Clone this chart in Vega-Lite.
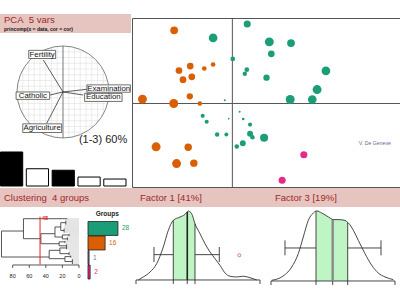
{
"$schema": "https://vega.github.io/schema/vega-lite/v6.json",
"padding": {"top": 14, "left": 0, "right": 0, "bottom": 0},
"background": "white",
"spacing": 0,
"resolve": {"scale": {"color": "independent", "size": "independent"}},
"config": {"view": {"stroke": null}, "concat": {"spacing": 0}, "font": "Liberation Sans", "text": {"font": "Liberation Sans"}},
"datasets": {
"grid": [
{"k":-0.875,"lo":-0.4841,"hi":0.4841},{"k":-0.75,"lo":-0.6614,"hi":0.6614},{"k":-0.625,"lo":-0.7806,"hi":0.7806},{"k":-0.5,"lo":-0.866,"hi":0.866},{"k":-0.375,"lo":-0.927,"hi":0.927},{"k":-0.25,"lo":-0.9682,"hi":0.9682},{"k":-0.125,"lo":-0.9922,"hi":0.9922},{"k":0,"lo":-1,"hi":1},{"k":0.125,"lo":-0.9922,"hi":0.9922},{"k":0.25,"lo":-0.9682,"hi":0.9682},{"k":0.375,"lo":-0.927,"hi":0.927},{"k":0.5,"lo":-0.866,"hi":0.866},{"k":0.625,"lo":-0.7806,"hi":0.7806},{"k":0.75,"lo":-0.6614,"hi":0.6614},{"k":0.875,"lo":-0.4841,"hi":0.4841}],
"vars": [
{"v":"Fertility","ax":-0.428,"ay":0.696,"o":0,"bx1":-0.745,"bx2":-0.16,"by1":0.728,"by2":0.905,"lx":-0.453,"ly":0.815},
{"v":"Catholic","ax":-0.283,"ay":-0.065,"o":0,"bx1":-1.02,"bx2":-0.29,"by1":-0.16,"by2":0.0,"lx":-0.656,"ly":-0.08},
{"v":"Examination","ax":0.515,"ay":0.059,"o":0,"bx1":0.52,"bx2":1.465,"by1":-0.005,"by2":0.155,"lx":0.993,"ly":0.074},
{"v":"Education","ax":0.441,"ay":-0.065,"o":0,"bx1":0.47,"bx2":1.285,"by1":-0.205,"by2":-0.03,"lx":0.877,"ly":-0.116},
{"v":"Agriculture","ax":-0.354,"ay":-0.68,"o":0,"bx1":-0.875,"bx2":-0.03,"by1":-0.88,"by2":-0.692,"lx":-0.453,"ly":-0.785}],
"eig": [{"f":"1","v":2.05,"sel":"y"},{"f":"2","v":1.04,"sel":"n"},{"f":"3","v":0.95,"sel":"y"},{"f":"4","v":0.54,"sel":"n"},{"f":"5","v":0.42,"sel":"n"}],
"scores": [
{"g":"2","x":-1.45,"y":1.84,"w":0.6},{"g":"2","x":-1.05,"y":0.94,"w":0.45},{"g":"2","x":-1.33,"y":0.83,"w":0.45},{"g":"2","x":-0.70,"y":0.88,"w":0.22},{"g":"2","x":-0.48,"y":0.98,"w":0.22},{"g":"2","x":-1.01,"y":0.67,"w":0.45},{"g":"2","x":-1.23,"y":0.60,"w":0.45},{"g":"2","x":-2.24,"y":0.11,"w":0.8},{"g":"2","x":-1.46,"y":0.0,"w":0.8},{"g":"2","x":-1.06,"y":0.18,"w":0.4},{"g":"2","x":-0.81,"y":0.0,"w":0.22},{"g":"2","x":-1.90,"y":-1.09,"w":0.8},{"g":"2","x":-1.10,"y":-1.10,"w":0.55},{"g":"2","x":-1.39,"y":-1.51,"w":0.8},{"g":"2","x":-0.96,"y":-1.50,"w":0.55},
{"g":"1","x":0.37,"y":2.0,"w":0.5},{"g":"1","x":-0.48,"y":1.65,"w":0.75},{"g":"1","x":0.92,"y":1.55,"w":0.8},{"g":"1","x":1.46,"y":1.52,"w":0.6},{"g":"1","x":0.97,"y":1.25,"w":0.45},{"g":"1","x":0.01,"y":1.12,"w":0.22},{"g":"1","x":0.36,"y":0.85,"w":0.22},{"g":"1","x":0.31,"y":0.75,"w":0.2},{"g":"1","x":0.85,"y":0.65,"w":0.4},{"g":"1","x":2.33,"y":0.82,"w":0.75},{"g":"1","x":2.11,"y":0.35,"w":0.8},{"g":"1","x":1.44,"y":0.10,"w":0.8},{"g":"1","x":1.99,"y":0.10,"w":0.75},{"g":"1","x":-0.19,"y":0.08,"w":0.04},{"g":"1","x":0.18,"y":-0.21,"w":0.04},{"g":"1","x":-0.09,"y":-0.38,"w":0.03},{"g":"1","x":0.27,"y":-0.39,"w":0.07},{"g":"1","x":-0.74,"y":-0.31,"w":0.17},{"g":"1","x":-0.64,"y":-0.46,"w":0.17},{"g":"1","x":0.44,"y":-0.53,"w":0.17},{"g":"1","x":-0.38,"y":-0.78,"w":0.2},{"g":"1","x":-0.15,"y":-0.78,"w":0.15},{"g":"1","x":0.44,"y":-0.76,"w":0.35},{"g":"1","x":0.50,"y":-0.85,"w":0.2},{"g":"1","x":0.79,"y":-0.86,"w":0.65},{"g":"1","x":0.26,"y":-1.00,"w":0.35},{"g":"1","x":0.11,"y":-1.08,"w":0.2},
{"g":"4","x":1.78,"y":-1.29,"w":0.5},{"g":"4","x":1.24,"y":-1.93,"w":0.5}],
"leaves": [
{"i":0,"h":14,"z":0},{"i":1,"h":16,"z":0},{"i":2,"h":16,"z":0},{"i":3,"h":16,"z":0},{"i":4,"h":16,"z":0},{"i":5,"h":16,"z":0},{"i":6,"h":16,"z":0},{"i":7,"h":18,"z":0},{"i":8,"h":18,"z":0},{"i":9,"h":18,"z":0},{"i":10,"h":18,"z":0},{"i":11,"h":18,"z":0},{"i":12,"h":18,"z":0},{"i":13,"h":18,"z":0},{"i":14,"h":18,"z":0},{"i":15,"h":12,"z":0},{"i":16,"h":12,"z":0},{"i":17,"h":12,"z":0},{"i":18,"h":14,"z":0},{"i":19,"h":14,"z":0},{"i":20,"h":14,"z":0},{"i":21,"h":14,"z":0},{"i":22,"h":14,"z":0},{"i":23,"h":17,"z":0},{"i":24,"h":17,"z":0},{"i":25,"h":17,"z":0},{"i":26,"h":15,"z":0},{"i":27,"h":15,"z":0},{"i":28,"h":15,"z":0},{"i":29,"h":15,"z":0},{"i":30,"h":15,"z":0},{"i":31,"h":15,"z":0},{"i":32,"h":12,"z":0},{"i":33,"h":12,"z":0},{"i":34,"h":12,"z":0},{"i":35,"h":12,"z":0},{"i":36,"h":12,"z":0},{"i":37,"h":12,"z":0},{"i":38,"h":10,"z":0},{"i":39,"h":10,"z":0},{"i":40,"h":10,"z":0},{"i":41,"h":8,"z":0},{"i":42,"h":8,"z":0},{"i":43,"h":8,"z":0},{"i":44,"h":8,"z":0},{"i":45,"h":8,"z":0},{"i":46,"h":8,"z":0}],
"tree": [
{"h1":93.5,"h2":93.5,"i1":12.5,"i2":38.9},{"h1":93.5,"h2":67,"i1":12.5,"i2":12.5},{"h1":93.5,"h2":36,"i1":38.9,"i2":38.9},
{"h1":67,"h2":67,"i1":0,"i2":20.3},{"h1":67,"h2":14,"i1":0,"i2":0},{"h1":67,"h2":46,"i1":20.3,"i2":20.3},
{"h1":46,"h2":46,"i1":15.2,"i2":25.4},{"h1":46,"h2":29,"i1":15.2,"i2":15.2},{"h1":46,"h2":24,"i1":25.4,"i2":25.4},
{"h1":29,"h2":29,"i1":8.4,"i2":18.6},{"h1":29,"h2":22,"i1":8.4,"i2":8.4},{"h1":29,"h2":20,"i1":18.6,"i2":18.6},
{"h1":22,"h2":22,"i1":4,"i2":12},{"h1":22,"h2":16,"i1":4,"i2":4},{"h1":16,"h2":16,"i1":2,"i2":6},{"h1":22,"h2":18,"i1":12,"i2":12},{"h1":18,"h2":18,"i1":10,"i2":14},
{"h1":20,"h2":20,"i1":16.5,"i2":20.5},{"h1":20,"h2":12,"i1":16.5,"i2":16.5},{"h1":12,"h2":12,"i1":15.5,"i2":17.5},{"h1":20,"h2":14,"i1":20.5,"i2":20.5},{"h1":14,"h2":14,"i1":19,"i2":22},
{"h1":24,"h2":24,"i1":23.5,"i2":27.5},{"h1":24,"h2":17,"i1":23.5,"i2":23.5},{"h1":17,"h2":17,"i1":22.5,"i2":24.5},{"h1":24,"h2":15,"i1":27.5,"i2":27.5},{"h1":15,"h2":15,"i1":26,"i2":29},
{"h1":36,"h2":36,"i1":32.1,"i2":40.6},{"h1":36,"h2":23,"i1":32.1,"i2":32.1},{"h1":36,"h2":17,"i1":40.6,"i2":40.6},
{"h1":23,"h2":23,"i1":29.7,"i2":35.5},{"h1":23,"h2":15,"i1":29.7,"i2":29.7},{"h1":15,"h2":15,"i1":28.5,"i2":31},{"h1":23,"h2":12,"i1":35.5,"i2":35.5},{"h1":12,"h2":12,"i1":34,"i2":37},
{"h1":17,"h2":17,"i1":38.5,"i2":43.5},{"h1":17,"h2":10,"i1":38.5,"i2":38.5},{"h1":10,"h2":10,"i1":37.5,"i2":39.5},{"h1":17,"h2":8,"i1":43.5,"i2":43.5},{"h1":8,"h2":8,"i1":41,"i2":46},
{"h1":47,"h2":47,"i1":-2,"i2":46.5},
{"h1":80,"h2":0,"i1":47,"i2":47},
{"h1":80,"h2":80,"i1":47,"i2":50},{"h1":60,"h2":60,"i1":47,"i2":50},{"h1":40,"h2":40,"i1":47,"i2":50},{"h1":20,"h2":20,"i1":47,"i2":50},{"h1":0,"h2":0,"i1":47,"i2":50}],
"dtext": [{"h":80,"i":57.7,"t":"80"},{"h":60,"i":57.7,"t":"60"},{"h":40,"i":57.7,"t":"40"},{"h":20,"i":57.7,"t":"20"},{"h":0,"i":57.7,"t":"0"}],
"groups": [{"gid":"g1","n":28,"z":0,"c":"1"},{"gid":"g2","n":16,"z":0,"c":"2"},{"gid":"g3","n":1,"z":0,"c":"3"},{"gid":"g4","n":2,"z":0,"c":"4"}],
"f1c": [{"x":-2.486,"y":0},{"x":-2.272,"y":0.02},{"x":-1.984,"y":0.053},{"x":-1.696,"y":0.109},{"x":-1.413,"y":0.22},{"x":-1.198,"y":0.331},{"x":-0.983,"y":0.398},{"x":-0.695,"y":0.42},{"x":-0.481,"y":0.438},{"x":-0.382,"y":0.455},{"x":-0.339,"y":0.46},{"x":-0.193,"y":0.442},{"x":-0.051,"y":0.375},{"x":0.164,"y":0.309},{"x":0.379,"y":0.242},{"x":0.594,"y":0.187},{"x":0.809,"y":0.142},{"x":1.023,"y":0.098},{"x":1.238,"y":0.047},{"x":1.453,"y":0.025},{"x":1.741,"y":0.02},{"x":2.024,"y":0.025},{"x":2.312,"y":0.015},{"x":2.6,"y":0}],
"f1s": [{"x1":-2.585,"x2":2.741,"y1":0,"y2":0},{"x1":-2.585,"x2":-2.585,"y1":0,"y2":-0.027},{"x1":-0.983,"x2":-0.983,"y1":-0.027,"y2":0.398},{"x1":-0.382,"x2":-0.382,"y1":0,"y2":-0.027},{"x1":-0.051,"x2":-0.051,"y1":-0.027,"y2":0.375},{"x1":2.741,"x2":2.741,"y1":0,"y2":-0.027},{"x1":-1.812,"x2":-0.983,"y1":0.169,"y2":0.169},{"x1":-0.051,"x2":0.993,"y1":0.169,"y2":0.169},{"x1":-1.812,"x2":-1.812,"y1":0.12,"y2":0.22},{"x1":0.993,"x2":0.993,"y1":0.12,"y2":0.22}],
"f3c": [{"x":-2.555,"y":0.005},{"x":-2.126,"y":0.027},{"x":-1.696,"y":0.093},{"x":-1.413,"y":0.182},{"x":-1.198,"y":0.293},{"x":-0.983,"y":0.404},{"x":-0.768,"y":0.453},{"x":-0.652,"y":0.466},{"x":-0.622,"y":0.467},{"x":-0.407,"y":0.453},{"x":-0.124,"y":0.427},{"x":0.065,"y":0.41},{"x":0.091,"y":0.409},{"x":0.306,"y":0.409},{"x":0.593,"y":0.404},{"x":0.709,"y":0.39},{"x":0.735,"y":0.387},{"x":0.95,"y":0.338},{"x":1.165,"y":0.271},{"x":1.453,"y":0.182},{"x":1.74,"y":0.105},{"x":2.024,"y":0.053},{"x":2.312,"y":0.027},{"x":2.668,"y":0.009}],
"f3s": [{"x1":-2.585,"x2":2.741,"y1":0,"y2":0},{"x1":-2.585,"x2":-2.585,"y1":0,"y2":-0.027},{"x1":-0.652,"x2":-0.652,"y1":-0.027,"y2":0.466},{"x1":0.065,"x2":0.065,"y1":0,"y2":-0.027},{"x1":0.709,"x2":0.709,"y1":-0.027,"y2":0.39},{"x1":2.741,"x2":2.741,"y1":0,"y2":-0.027},{"x1":-1.984,"x2":-0.652,"y1":0.22,"y2":0.22},{"x1":0.709,"x2":2.14,"y1":0.22,"y2":0.22},{"x1":-1.984,"x2":-1.984,"y1":0.171,"y2":0.271},{"x1":2.14,"x2":2.14,"y1":0.171,"y2":0.271}]
},
"vconcat": [
{"hconcat": [
 {"vconcat": [
  {"width": 131, "height": 19, "view": {"fill": "#e6c4c0", "stroke": null},
   "data": {"values": [{"t": "PCA\u00a0\u00a05 vars", "s": "princomp(x = data, cor = cor)", "x": 0, "y1": 0.66, "y2": 0.2}]},
   "layer": [
    {"mark": {"type": "text", "align": "left", "baseline": "middle", "dx": 4, "fontSize": 9.5, "color": "#a0282a"},
     "encoding": {"x": {"field": "x", "type": "quantitative", "scale": {"domain": [0, 1], "nice": false}, "axis": null}, "y": {"field": "y1", "type": "quantitative", "scale": {"domain": [0, 1], "nice": false}, "axis": null}, "text": {"field": "t"}}},
    {"mark": {"type": "text", "align": "left", "baseline": "middle", "dx": 4, "fontSize": 5, "fontWeight": "bold", "color": "#111"},
     "encoding": {"x": {"field": "x", "type": "quantitative"}, "y": {"field": "y2", "type": "quantitative"}, "text": {"field": "s"}}}
   ]},
  {"width": 131, "height": 117,
   "layer": [
    {"data": {"name": "grid"}, "mark": {"type": "rule", "color": "#e0e0e0", "strokeWidth": 0.6},
     "encoding": {"x": {"field": "k", "type": "quantitative", "scale": {"domain": [-1.3696, 1.4783], "nice": false, "zero": false}, "axis": null}, "y": {"field": "lo", "type": "quantitative", "scale": {"domain": [-1.2609, 1.2826], "nice": false, "zero": false}, "axis": null}, "y2": {"field": "hi"}}},
    {"data": {"name": "grid"}, "mark": {"type": "rule", "color": "#e0e0e0", "strokeWidth": 0.6},
     "encoding": {"y": {"field": "k", "type": "quantitative"}, "x": {"field": "lo", "type": "quantitative"}, "x2": {"field": "hi"}}},
    {"data": {"values": [{"cx": 0, "cy": 0}]}, "mark": {"type": "point", "shape": "circle", "filled": false, "size": 8464, "color": "#777", "strokeWidth": 0.9, "opacity": 1},
     "encoding": {"x": {"field": "cx", "type": "quantitative"}, "y": {"field": "cy", "type": "quantitative"}}},
    {"data": {"values": [{"cx": 0, "lo": -1, "hi": 1}]}, "mark": {"type": "rule", "color": "#666", "strokeWidth": 0.8},
     "encoding": {"x": {"field": "cx", "type": "quantitative"}, "y": {"field": "lo", "type": "quantitative"}, "y2": {"field": "hi"}}},
    {"data": {"name": "vars"}, "mark": {"type": "rule", "color": "#333", "strokeWidth": 0.8},
     "encoding": {"x": {"field": "ax", "type": "quantitative"}, "y": {"field": "ay", "type": "quantitative"}, "x2": {"field": "o"}, "y2": {"field": "o"}}},
    {"data": {"name": "vars"}, "mark": {"type": "rect", "fill": "white", "stroke": "#333", "strokeWidth": 0.7},
     "encoding": {"x": {"field": "bx1", "type": "quantitative"}, "x2": {"field": "bx2"}, "y": {"field": "by1", "type": "quantitative"}, "y2": {"field": "by2"}}},
    {"data": {"name": "vars"}, "mark": {"type": "text", "fontSize": 7.8, "color": "#111", "baseline": "middle"},
     "encoding": {"x": {"field": "lx", "type": "quantitative"}, "y": {"field": "ly", "type": "quantitative"}, "text": {"field": "v"}}},
    {"data": {"values": [{"t": "(1-3) 60%", "x": 0.87, "y": -1.04}]}, "mark": {"type": "text", "fontSize": 11, "color": "#222", "baseline": "middle"},
     "encoding": {"x": {"field": "x", "type": "quantitative"}, "y": {"field": "y", "type": "quantitative"}, "text": {"field": "t"}}}
   ]},
  {"width": 131, "height": 36, "data": {"name": "eig"},
   "mark": {"type": "bar", "stroke": "#000", "strokeWidth": 1},
   "encoding": {"x": {"field": "f", "type": "ordinal", "scale": {"range": [0.5, 126], "paddingInner": 0.14, "paddingOuter": 0}, "axis": null},
    "y": {"field": "v", "type": "quantitative", "scale": {"domain": [0, 2.17], "nice": false}, "axis": null},
    "color": {"field": "sel", "type": "nominal", "scale": {"domain": ["y", "n"], "range": ["#000000", "#ffffff"]}, "legend": null}}}
 ], "spacing": 0, "resolve": {"scale": {"color": "independent", "size": "independent"}}},
 {"vconcat": [
  {"width": 269, "height": 3, "data": {"values": [{"a": 0}]}, "mark": {"type": "rect", "opacity": 0},
   "encoding": {"x": {"field": "a", "type": "quantitative", "scale": {"domain": [0, 1]}, "axis": null}, "x2": {"field": "a"}, "y": {"field": "a", "type": "quantitative", "scale": {"domain": [0, 1]}, "axis": null}, "y2": {"field": "a"}}},
  {"width": 269, "height": 169, "view": {"stroke": "#555", "strokeWidth": 1},
   "layer": [
    {"data": {"values": [{"z": 0}]}, "mark": {"type": "rule", "color": "#555", "strokeWidth": 1},
     "encoding": {"y": {"field": "z", "type": "quantitative", "scale": {"domain": [-2.1, 2.15], "nice": false, "zero": false}, "axis": null}}},
    {"data": {"values": [{"z": 0}]}, "mark": {"type": "rule", "color": "#555", "strokeWidth": 1},
     "encoding": {"x": {"field": "z", "type": "quantitative", "scale": {"domain": [-2.5, 4.2], "nice": false, "zero": false}, "axis": null}}},
    {"data": {"name": "scores"}, "mark": {"type": "circle", "opacity": 1},
     "encoding": {"x": {"field": "x", "type": "quantitative"}, "y": {"field": "y", "type": "quantitative"},
      "size": {"field": "w", "type": "quantitative", "scale": {"domain": [0, 1], "range": [0, 100]}, "legend": null},
      "color": {"field": "g", "type": "nominal", "scale": {"domain": ["1", "2", "3", "4"], "range": ["#1b9e77", "#d95f02", "#7570b3", "#e7298a"]}, "legend": null}}},
    {"data": {"values": [{"t": "V. De Geneve", "x": 3.55, "y": -0.99}]}, "mark": {"type": "text", "fontSize": 5.2, "color": "#6a6a9a", "baseline": "middle"},
     "encoding": {"x": {"field": "x", "type": "quantitative"}, "y": {"field": "y", "type": "quantitative"}, "text": {"field": "t"}}}
   ]}
 ], "spacing": 0, "resolve": {"scale": {"color": "independent", "size": "independent"}}}
], "spacing": 0, "resolve": {"scale": {"color": "independent", "size": "independent"}}},
{"hconcat": [
 {"vconcat": [
  {"width": 131, "height": 19, "view": {"fill": "#e6c4c0", "stroke": null},
   "data": {"values": [{"t": "Clustering\u00a0\u00a04 groups", "x": 0, "y": 0.5}]},
   "mark": {"type": "text", "align": "left", "baseline": "middle", "dx": 4, "fontSize": 9.5, "color": "#a0282a"},
   "encoding": {"x": {"field": "x", "type": "quantitative", "scale": {"domain": [0, 1], "nice": false}, "axis": null}, "y": {"field": "y", "type": "quantitative", "scale": {"domain": [0, 1], "nice": false}, "axis": null}, "text": {"field": "t"}}},
  {"hconcat": [
   {"width": 85, "height": 95,
    "layer": [
     {"data": {"name": "leaves"}, "mark": {"type": "rule", "color": "#c8c8c8", "strokeWidth": 0.5},
      "encoding": {"x": {"field": "h", "type": "quantitative", "scale": {"domain": [-7.24, 95.3], "reverse": true, "nice": false, "zero": false}, "axis": null}, "x2": {"field": "z"}, "y": {"field": "i", "type": "quantitative", "scale": {"domain": [-11.9, 84.6], "reverse": true, "nice": false, "zero": false}, "axis": null}}},
     {"data": {"name": "tree"}, "transform": [{"filter": "datum.h1 != 47"}], "mark": {"type": "rule", "color": "#444", "strokeWidth": 0.9},
      "encoding": {"x": {"field": "h1", "type": "quantitative"}, "x2": {"field": "h2"}, "y": {"field": "i1", "type": "quantitative"}, "y2": {"field": "i2"}}},
     {"data": {"name": "tree"}, "transform": [{"filter": "datum.h1 == 47"}], "mark": {"type": "rule", "color": "#e02828", "strokeWidth": 1},
      "encoding": {"x": {"field": "h1", "type": "quantitative"}, "x2": {"field": "h2"}, "y": {"field": "i1", "type": "quantitative"}, "y2": {"field": "i2"}}},
     {"data": {"values": [{"t": "48", "h": 41, "i": -0.7}]}, "mark": {"type": "text", "color": "#e02828", "fontSize": 5.5, "fontWeight": "bold", "baseline": "middle"},
      "encoding": {"x": {"field": "h", "type": "quantitative"}, "y": {"field": "i", "type": "quantitative"}, "text": {"field": "t"}}},
     {"data": {"name": "dtext"}, "mark": {"type": "text", "color": "#222", "fontSize": 5.5, "baseline": "middle"},
      "encoding": {"x": {"field": "h", "type": "quantitative"}, "y": {"field": "i", "type": "quantitative"}, "text": {"field": "t"}}}
    ]},
   {"width": 46, "height": 95,
    "layer": [
     {"data": {"values": [{"gid": "hdr", "t": "Groups", "n": 18}]}, "mark": {"type": "text", "fontSize": 6.5, "fontWeight": "bold", "color": "#222", "baseline": "middle"},
      "encoding": {"x": {"field": "n", "type": "quantitative", "scale": {"domain": [-2.8, 40.2], "nice": false, "zero": false}, "axis": null},
       "y": {"field": "gid", "type": "ordinal", "scale": {"domain": ["hdr", "g1", "g2", "g3", "g4"], "range": [0, 72], "paddingInner": 0.04, "paddingOuter": 0}, "axis": null}, "text": {"field": "t"}}},
     {"data": {"name": "groups"}, "mark": {"type": "bar", "stroke": "#222", "strokeWidth": 0.8},
      "encoding": {"x": {"field": "n", "type": "quantitative"}, "x2": {"field": "z"}, "y": {"field": "gid", "type": "ordinal"},
       "color": {"field": "c", "type": "nominal", "scale": {"domain": ["1", "2", "3", "4"], "range": ["#1b9e77", "#d95f02", "#7570b3", "#e7298a"]}, "legend": null}}},
     {"data": {"name": "groups"}, "mark": {"type": "text", "fontSize": 6.5, "align": "left", "dx": 4, "baseline": "middle"},
      "encoding": {"x": {"field": "n", "type": "quantitative"}, "y": {"field": "gid", "type": "ordinal"}, "text": {"field": "n", "type": "nominal"},
       "color": {"field": "c", "type": "nominal", "legend": null}}}
    ]}
  ], "spacing": 0, "resolve": {"scale": {"color": "independent", "size": "independent"}}}
 ], "spacing": 0, "resolve": {"scale": {"color": "independent", "size": "independent"}}},
 {"vconcat": [
  {"width": 135, "height": 19, "view": {"fill": "#e6c4c0", "stroke": null},
   "data": {"values": [{"t": "Factor 1 [41%]", "x": 0, "y": 0.5}]},
   "mark": {"type": "text", "align": "left", "baseline": "middle", "dx": 9, "fontSize": 9.5, "color": "#a0282a"},
   "encoding": {"x": {"field": "x", "type": "quantitative", "scale": {"domain": [0, 1], "nice": false}, "axis": null}, "y": {"field": "y", "type": "quantitative", "scale": {"domain": [0, 1], "nice": false}, "axis": null}, "text": {"field": "t"}}},
  {"width": 135, "height": 95,
   "layer": [
    {"data": {"name": "f1c"}, "transform": [{"filter": "datum.x >= -0.984 && datum.x <= -0.05"}], "mark": {"type": "area", "color": "#bff5c4", "interpolate": "monotone", "opacity": 1},
     "encoding": {"x": {"field": "x", "type": "quantitative", "scale": {"domain": [-2.8, 3.0], "nice": false, "zero": false}, "axis": null}, "y": {"field": "y", "type": "quantitative", "scale": {"domain": [-0.147, 0.487], "nice": false, "zero": false}, "axis": null}}},
    {"data": {"name": "f1s"}, "mark": {"type": "rule", "color": "#333", "strokeWidth": 0.9},
     "encoding": {"x": {"field": "x1", "type": "quantitative"}, "x2": {"field": "x2"}, "y": {"field": "y1", "type": "quantitative"}, "y2": {"field": "y2"}}},
    {"data": {"values": [{"x": -0.382, "t": 0.455, "b": 0}]}, "mark": {"type": "rule", "color": "#222", "strokeWidth": 1.6},
     "encoding": {"x": {"field": "x", "type": "quantitative"}, "y": {"field": "t", "type": "quantitative"}, "y2": {"field": "b"}}},
    {"data": {"name": "f1c"}, "mark": {"type": "line", "color": "#333", "strokeWidth": 0.9, "interpolate": "monotone"},
     "encoding": {"x": {"field": "x", "type": "quantitative"}, "y": {"field": "y", "type": "quantitative"}}},
    {"data": {"values": [{"x": 1.852, "y": 0.165}]}, "mark": {"type": "point", "filled": false, "color": "#d06060", "size": 10, "strokeWidth": 0.8, "opacity": 1},
     "encoding": {"x": {"field": "x", "type": "quantitative"}, "y": {"field": "y", "type": "quantitative"}}}
   ]}
 ], "spacing": 0, "resolve": {"scale": {"color": "independent", "size": "independent"}}},
 {"vconcat": [
  {"width": 134, "height": 19, "view": {"fill": "#e6c4c0", "stroke": null},
   "data": {"values": [{"t": "Factor 3 [19%]", "x": 0, "y": 0.5}]},
   "mark": {"type": "text", "align": "left", "baseline": "middle", "dx": 9, "fontSize": 9.5, "color": "#a0282a"},
   "encoding": {"x": {"field": "x", "type": "quantitative", "scale": {"domain": [0, 1], "nice": false}, "axis": null}, "y": {"field": "y", "type": "quantitative", "scale": {"domain": [0, 1], "nice": false}, "axis": null}, "text": {"field": "t"}}},
  {"width": 134, "height": 95,
   "layer": [
    {"data": {"name": "f3c"}, "transform": [{"filter": "datum.x >= -0.653 && datum.x <= 0.71"}], "mark": {"type": "area", "color": "#bff5c4", "interpolate": "monotone", "opacity": 1},
     "encoding": {"x": {"field": "x", "type": "quantitative", "scale": {"domain": [-2.8, 2.956], "nice": false, "zero": false}, "axis": null}, "y": {"field": "y", "type": "quantitative", "scale": {"domain": [-0.14, 0.493], "nice": false, "zero": false}, "axis": null}}},
    {"data": {"name": "f3s"}, "mark": {"type": "rule", "color": "#333", "strokeWidth": 0.9},
     "encoding": {"x": {"field": "x1", "type": "quantitative"}, "x2": {"field": "x2"}, "y": {"field": "y1", "type": "quantitative"}, "y2": {"field": "y2"}}},
    {"data": {"values": [{"x": 0.065, "t": 0.41, "b": 0}]}, "mark": {"type": "rule", "color": "#8a8a8a", "strokeWidth": 2.4},
     "encoding": {"x": {"field": "x", "type": "quantitative"}, "y": {"field": "t", "type": "quantitative"}, "y2": {"field": "b"}}},
    {"data": {"name": "f3c"}, "mark": {"type": "line", "color": "#333", "strokeWidth": 0.9, "interpolate": "monotone"},
     "encoding": {"x": {"field": "x", "type": "quantitative"}, "y": {"field": "y", "type": "quantitative"}}}
   ]}
 ], "spacing": 0, "resolve": {"scale": {"color": "independent", "size": "independent"}}}
], "spacing": 0, "resolve": {"scale": {"color": "independent", "size": "independent"}}}
]
}
